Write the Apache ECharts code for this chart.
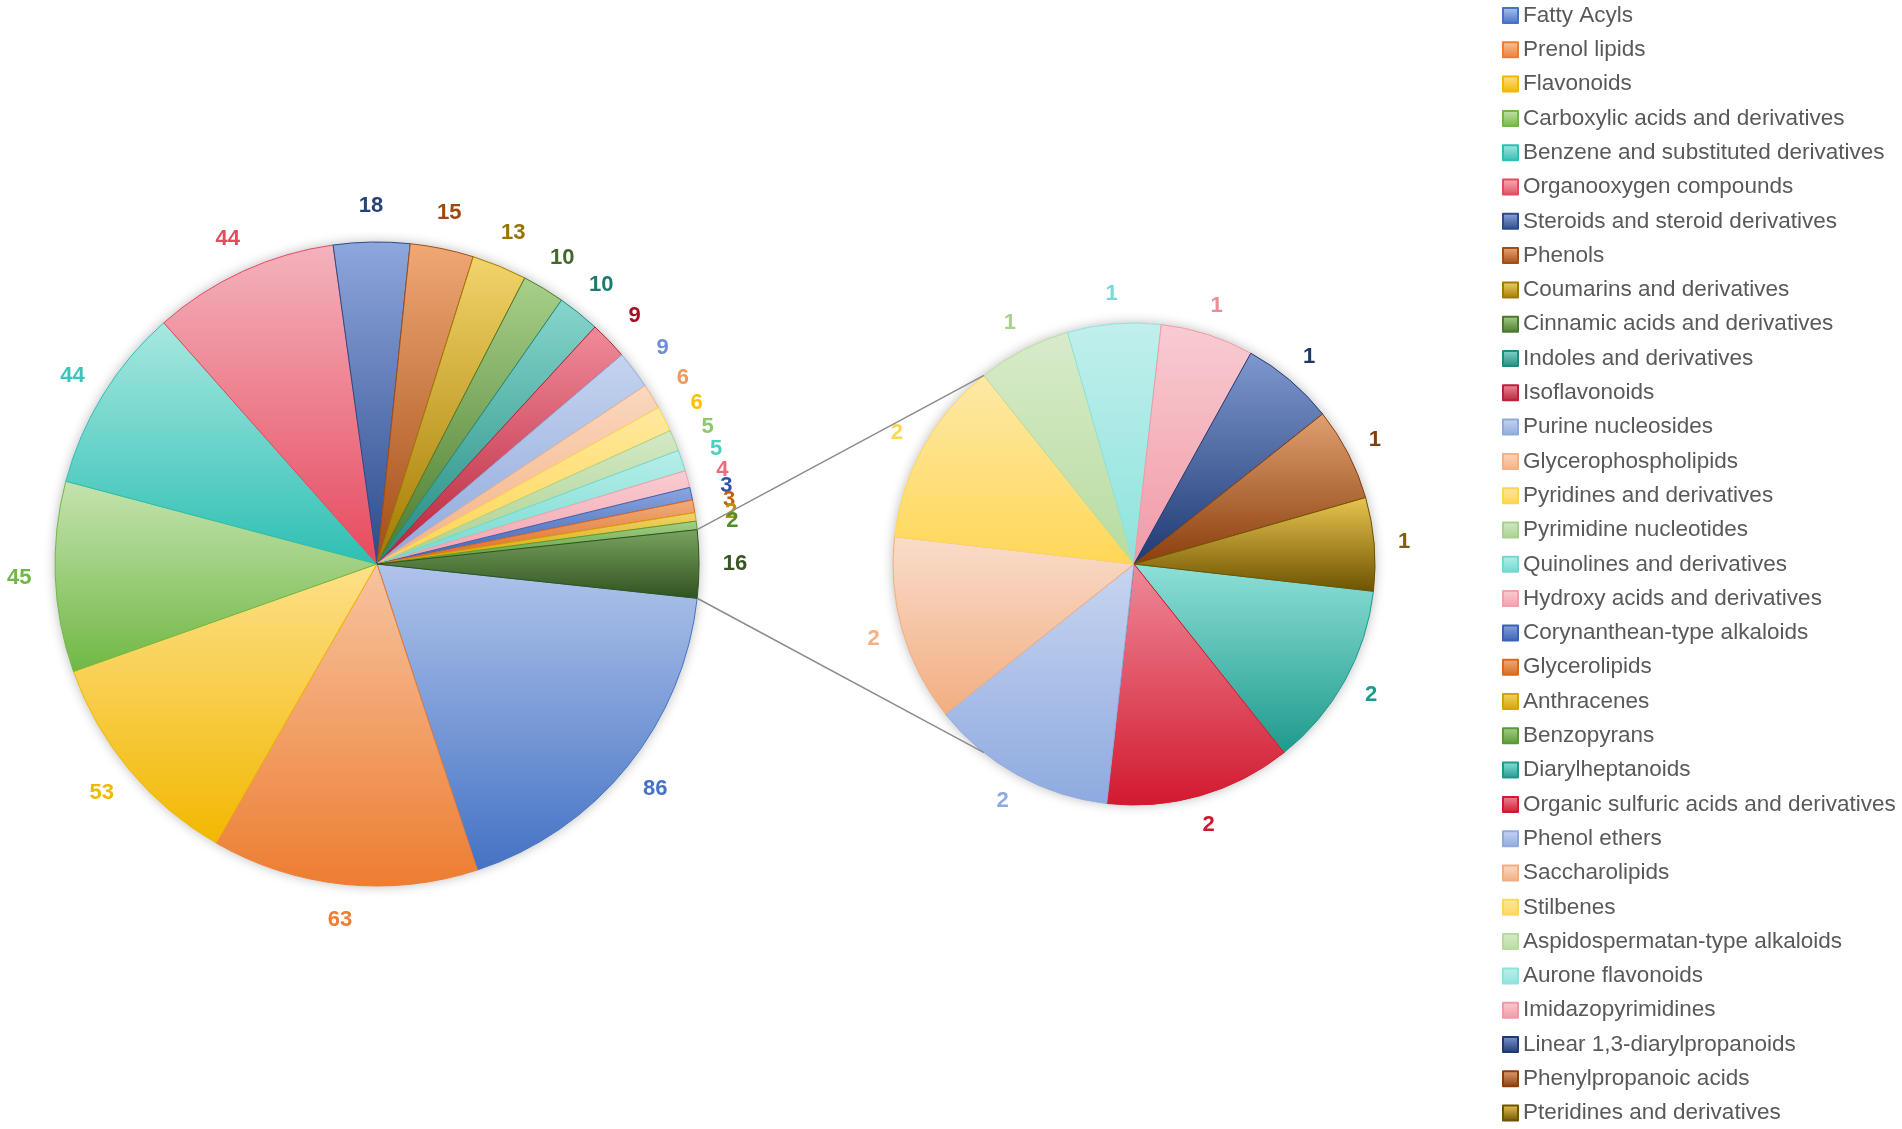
<!DOCTYPE html>
<html><head><meta charset="utf-8">
<script src="https://cdn.jsdelivr.net/npm/echarts@6/dist/echarts.min.js"></script>
<style>html,body{margin:0;padding:0;background:#fff}#chart{width:1902px;height:1129px}</style>
</head><body><div id="chart"></div>
<script>
// ---------- data ----------
const mainCategories = ['Fatty Acyls','Prenol lipids','Flavonoids','Carboxylic acids and derivatives','Benzene and substituted derivatives','Organooxygen compounds','Steroids and steroid derivatives','Phenols','Coumarins and derivatives','Cinnamic acids and derivatives','Indoles and derivatives','Isoflavonoids','Purine nucleosides','Glycerophospholipids','Pyridines and derivatives','Pyrimidine nucleotides','Quinolines and derivatives','Hydroxy acids and derivatives','Corynanthean-type alkaloids','Glycerolipids','Anthracenes','Benzopyrans','Other'];
const mainValues = [86,63,53,45,44,44,18,15,13,10,10,9,9,6,6,5,5,4,3,3,2,2,16];
const subCategories = ['Diarylheptanoids','Organic sulfuric acids and derivatives','Phenol ethers','Saccharolipids','Stilbenes','Aspidospermatan-type alkaloids','Aurone flavonoids','Imidazopyrimidines','Linear 1,3-diarylpropanoids','Phenylpropanoic acids','Pteridines and derivatives'];
const subValues = [2,2,2,2,2,1,1,1,1,1,1];
const legendNames = mainCategories.slice(0, 22).concat(subCategories);

// ---------- styles ----------
const mainBase = ['#4472c4','#ed7d31','#f2b800','#70b844','#2ebfb3','#e64a5e','#2c4a8c','#a24d15','#a37a00','#4a7a2c','#228a80','#b8233a','#8faadc','#f4b183','#ffd54f','#a9d18e','#6fdad0','#f3a0aa','#3a62b5','#d9691e','#d4a400','#5a9a34','#2f5220'];
const mainTop  = ['#b0c4ea','#f7c4a0','#fde08a','#c5e3b0','#a8e8e0','#f4b3bd','#8ea7dc','#f0a874','#f2d46a','#a8d08a','#86d6cc','#f08b9a','#c5d3ef','#fad8bf','#ffe9a0','#d4e9c6','#b9eee9','#f9cdd3','#8ca5dd','#f2ad7c','#f0d56c','#a5d08a','#7aa35f'];
const mainLabel = ['#4472c4','#ed7d31','#f2b800','#70b844','#3cc4b8','#e64a5e','#264478','#9e480e','#997300','#43682b','#1e7a70','#a50e24','#6d8fd6','#f09a5a','#ffc000','#8cc96a','#4bcfc3','#ec6b7b','#2f55a8','#c55a11','#bf9000','#4f8f2c','#375623'];
const subBase  = ['#1e9a8c','#d2192f','#8eaadf','#f2ae80','#ffd757','#b7dc9f','#8ee3dd','#f19aa7','#1f3a73','#8a3e0c','#6e5300'];
const subTop   = ['#8ee0d8','#ee8a98','#c8d5f0','#f9dccb','#fde9a6','#d8ebcb','#c1efec','#f8ccd2','#7f98cf','#e0a070','#e8c550'];
const subLabel = ['#1e9a8c','#d0172d','#8eaadf','#f4b183','#ffd54a','#a9d18e','#7ad9d4','#f08b98','#1f3864','#843c0c','#7f6000'];

const FONT = "'Liberation Sans', Arial, sans-serif";
const MAIN_CENTER = [377, 564], MAIN_R = 322;
const SUB_CENTER = [1134, 564], SUB_R = 241;
const MAIN_START = -6.11, SUB_START = -6.5;

function grad(top, base) {
  return new echarts.graphic.LinearGradient(0, 0, 0, 1, [
    { offset: 0, color: top }, { offset: 1, color: base }
  ]);
}
function sliceData(names, values, tops, bases) {
  return names.map((n, i) => ({
    name: n, value: values[i],
    itemStyle: { color: grad(tops[i], bases[i]), borderColor: bases[i], borderWidth: 1 }
  }));
}
function labelData(names, values, colors) {
  return names.map((n, i) => ({
    name: n, value: values[i],
    label: { color: colors[i] }
  }));
}
const labelStyle = { show: true, position: 'inside', fontFamily: FONT, fontWeight: 'bold', fontSize: 22, formatter: '{c}', rotate: 0, overflow: 'none' };

const chart = echarts.init(document.getElementById('chart'), null, { renderer: 'canvas' });
const option = {
  animation: false,
  backgroundColor: '#ffffff',
  legend: {
    orient: 'vertical', left: 1502, top: 4, padding: 0,
    itemWidth: 15, itemHeight: 15, itemGap: 11.3,
    icon: 'rect',
    data: legendNames,
    textStyle: { fontFamily: FONT, fontSize: 22.5, color: '#595959' },
    selectedMode: false
  },
  series: [
    {
      type: 'pie', name: 'main', center: MAIN_CENTER, radius: [0, MAIN_R],
      startAngle: MAIN_START, clockwise: true, avoidLabelOverlap: false,
      label: { show: false }, labelLine: { show: false }, silent: true,
      data: sliceData(mainCategories, mainValues, mainTop, mainBase)
    },
    {
      type: 'pie', name: 'sub', center: SUB_CENTER, radius: [0, SUB_R],
      startAngle: SUB_START, clockwise: true, avoidLabelOverlap: false,
      label: { show: false }, labelLine: { show: false }, silent: true,
      data: sliceData(subCategories, subValues, subTop, subBase)
    },
    {
      type: 'pie', name: 'mainLabels', center: MAIN_CENTER, radius: [MAIN_R + 18, MAIN_R + 48],
      startAngle: MAIN_START, clockwise: true, silent: true, avoidLabelOverlap: false,
      itemStyle: { color: 'rgba(0,0,0,0)', borderWidth: 0 },
      label: labelStyle, labelLine: { show: false },
      labelLayout: { hideOverlap: false },
      data: labelData(mainCategories, mainValues, mainLabel)
    },
    {
      type: 'pie', name: 'subLabels', center: SUB_CENTER, radius: [SUB_R + 14, SUB_R + 40],
      startAngle: SUB_START, clockwise: true, silent: true, avoidLabelOverlap: false,
      itemStyle: { color: 'rgba(0,0,0,0)', borderWidth: 0 },
      label: labelStyle, labelLine: { show: false },
      labelLayout: { hideOverlap: false },
      data: labelData(subCategories, subValues, subLabel)
    }
  ]
};
chart.setOption(option);

// connector lines + soft halo, derived from the library's pie layouts
const model = chart.getModel();
const mData = model.getSeriesByIndex(0).getData();
const sData = model.getSeriesByIndex(1).getData();
const other = mData.getItemLayout(mainCategories.length - 1);
const stil = sData.getItemLayout(subCategories.indexOf('Stilbenes'));
const p1 = [other.cx + other.r * Math.cos(other.startAngle), other.cy + other.r * Math.sin(other.startAngle)];
const p2 = [other.cx + other.r * Math.cos(other.endAngle), other.cy + other.r * Math.sin(other.endAngle)];
const q1 = [stil.cx + stil.r * Math.cos(stil.endAngle), stil.cy + stil.r * Math.sin(stil.endAngle)];
const q2 = [stil.cx + stil.r * Math.cos(stil.endAngle), stil.cy - stil.r * Math.sin(stil.endAngle)];
chart.setOption({
  graphic: [
    { type: 'circle', z: -1, silent: true, shape: { cx: other.cx, cy: other.cy, r: other.r },
      style: { fill: '#fff', shadowBlur: 12, shadowColor: 'rgba(0,0,0,0.28)' } },
    { type: 'circle', z: -1, silent: true, shape: { cx: stil.cx, cy: stil.cy, r: stil.r },
      style: { fill: '#fff', shadowBlur: 12, shadowColor: 'rgba(0,0,0,0.28)' } },
    { type: 'line', z: 10, silent: true, shape: { x1: p1[0], y1: p1[1], x2: q1[0], y2: q1[1] },
      style: { stroke: '#8c8c8c', lineWidth: 1.5 } },
    { type: 'line', z: 10, silent: true, shape: { x1: p2[0], y1: p2[1], x2: q2[0], y2: q2[1] },
      style: { stroke: '#8c8c8c', lineWidth: 1.5 } }
  ]
});
</script>
</body></html>
